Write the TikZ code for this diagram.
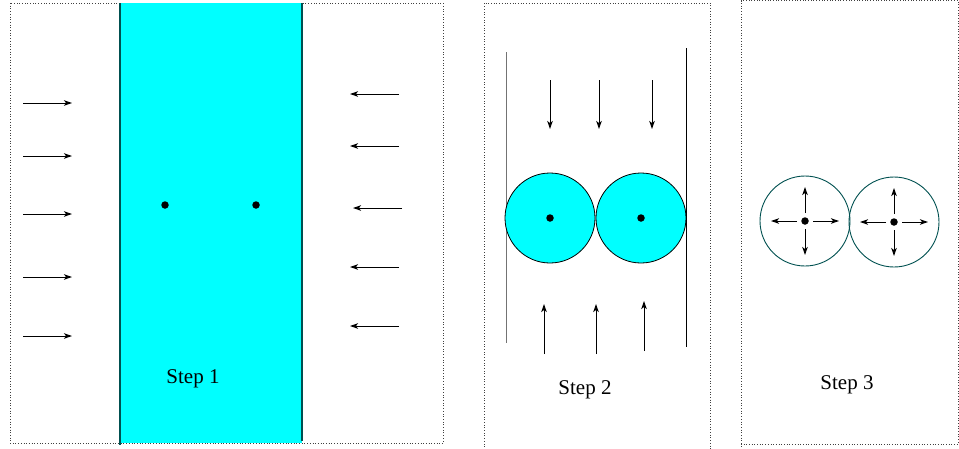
\documentclass[tikz,border=0pt]{standalone}
\usepackage{fontspec}
\setmainfont{Liberation Serif}
\usetikzlibrary{arrows.meta}
\definecolor{aqua}{RGB}{0,255,255}
\definecolor{tealedge}{RGB}{0,80,80}
\begin{document}
\begin{tikzpicture}[x=1pt,y=-1pt,
  frame/.style={draw=black!75,dotted,line width=0.7pt},
  flow/.style={-{Stealth[length=8pt,width=5.5pt,inset=2pt]},line width=1pt},
  wall/.style={line width=1pt},
  dotc/.style={fill=black,circle,inner sep=0pt,minimum size=7.5pt},
  label/.style={font=\fontsize{21}{24}\selectfont}]
\useasboundingbox (0,0) rectangle (959,448);

% Step 1 frame and fluid band
\draw[frame] (10,3) rectangle (443,443);
\fill[aqua] (120,3) rectangle (302,443);
\draw[tealedge,line width=1.1pt] (120,3) -- (120,445);
\draw[tealedge,line width=1.1pt] (302,3) -- (302,441);
\foreach \y in {103,156,214,277,336}
  \draw[flow] (23,\y) -- (72,\y);
\foreach \y/\x in {94/399,146/399,208/402,267/399,326/399}
  \draw[flow] (\x,\y) -- (\x-49,\y);
\node[dotc] (p1) at (165,205) {};
\node[dotc] (p2) at (256,205) {};
\node[label] (s1) at (193,379) {Step 1};

% Step 2 frame
\draw[frame] (484,455) -- (484,3) -- (710,3) -- (710,455);
\draw[wall,black!55] (506,52) -- (506,343);
\draw[wall] (686,48) -- (686,347);
\foreach \x in {550,599,652}
  \draw[flow] (\x,80) -- (\x,129);
\node[draw=black,fill=aqua,circle,minimum size=90pt,inner sep=0pt,line width=0.8pt] (c1) at (550,218) {};
\node[draw=black,fill=aqua,circle,minimum size=90pt,inner sep=0pt,line width=0.8pt] (c2) at (641,218) {};
\node[dotc] at (c1.center) {};
\node[dotc] at (c2.center) {};
\foreach \x/\y in {544/354,596/354,644/351}
  \draw[flow] (\x,\y) -- (\x,\y-50);
\node[label] (s2) at (585,390) {Step 2};

% Step 3 frame
\draw[frame] (741,455) -- (741,444) -- (958,444) -- (958,0.5) -- (741,0.5) -- (741,444);
\node[draw=tealedge,circle,minimum size=90pt,inner sep=0pt,line width=0.9pt] (d1) at (805,221) {};
\node[draw=tealedge,circle,minimum size=90pt,inner sep=0pt,line width=0.9pt] (d2) at (894,222) {};
\foreach \c in {d1,d2}{
  \node[dotc] at (\c.center) {};
  \draw[flow] ([xshift=8pt]\c.center) -- ([xshift=34pt]\c.center);
  \draw[flow] ([xshift=-8pt]\c.center) -- ([xshift=-34pt]\c.center);
  \draw[flow] ([yshift=8pt]\c.center) -- ([yshift=34pt]\c.center);
  \draw[flow] ([yshift=-8pt]\c.center) -- ([yshift=-34pt]\c.center);
}
\node[label] (s3) at (847,385) {Step 3};
\end{tikzpicture}
\end{document}
